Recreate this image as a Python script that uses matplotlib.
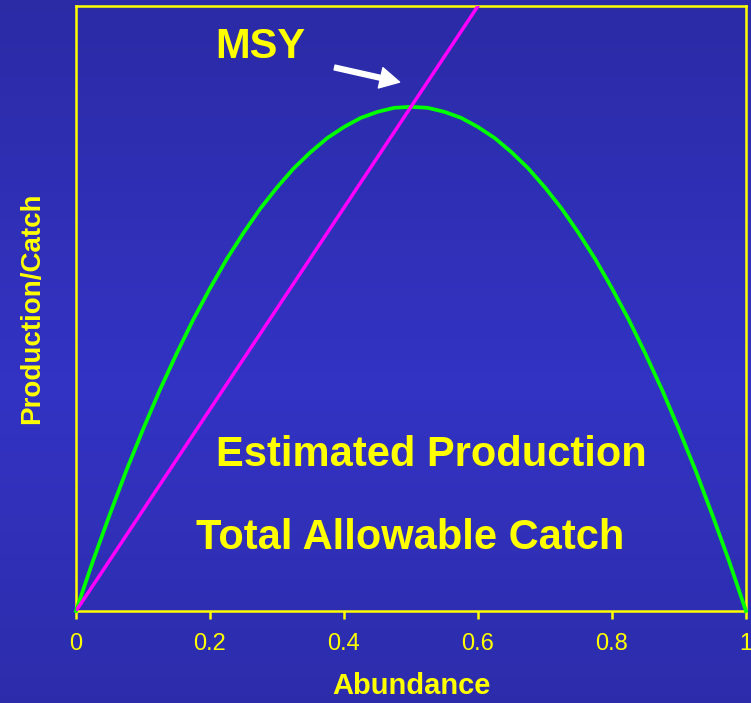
import matplotlib
matplotlib.use('Agg')
import matplotlib.pyplot as plt
import numpy as np

plt.rcParams['font.family'] = ['Liberation Sans', 'DejaVu Sans']

# Surplus production curve (green), sampled on an even abundance grid
abundance = np.linspace(0, 1, 81)
production = [0.0, 0.049, 0.098, 0.144, 0.19, 0.234, 0.278, 0.319, 0.36, 0.399,
              0.438, 0.474, 0.51, 0.544, 0.578, 0.609, 0.64, 0.669, 0.698, 0.724,
              0.75, 0.774, 0.798, 0.819, 0.84, 0.859, 0.878, 0.894, 0.91, 0.924,
              0.938, 0.949, 0.96, 0.969, 0.978, 0.984, 0.99, 0.994, 0.998, 0.999,
              1.0,
              0.999, 0.998, 0.994, 0.99, 0.984, 0.978, 0.969, 0.96, 0.949, 0.938,
              0.924, 0.91, 0.894, 0.878, 0.859, 0.84, 0.819, 0.798, 0.774, 0.75,
              0.724, 0.698, 0.669, 0.64, 0.609, 0.578, 0.544, 0.51, 0.474, 0.438,
              0.399, 0.36, 0.319, 0.278, 0.234, 0.19, 0.144, 0.098, 0.049, 0.0]
# Total allowable catch (magenta)
catch_x = [0.0, 0.1, 0.2, 0.3, 0.4, 0.5, 0.6]
catch_y = [0.0, 0.2, 0.4, 0.6, 0.8, 1.0, 1.2]
xticks = [0, 0.2, 0.4, 0.6, 0.8, 1]
xtick_labels = ['0', '0.2', '0.4', '0.6', '0.8', '1']

YELLOW = '#FFFF00'

fig = plt.figure(figsize=(7.51, 7.03), dpi=100)

# blue slide background, a little lighter through the middle
bg = fig.add_axes([0, 0, 1, 1], zorder=-1)
t = np.linspace(0, 1, 256)
shade = np.clip(1 - np.abs(t - 0.55) * 1.6, 0, 1)[:, None]
top = np.array([0x2A, 0x2A, 0xA2]) / 255
mid = np.array([0x33, 0x33, 0xC4]) / 255
grad = top + (mid - top) * shade
bg.imshow(grad[:, None, :] * np.ones((1, 4, 1)), aspect='auto', extent=[0, 1, 0, 1])
bg.axis('off')

ax = fig.add_axes([0.1012, 0.1309, 0.8921, 0.8606])
ax.set_facecolor('none')
ax.plot(abundance, production, color='#00FF00', lw=2.7, zorder=3, clip_on=False)
ax.plot(catch_x, catch_y, color='#FF00FF', lw=2.5, zorder=4)
ax.set_xlim(0, 1)
ax.set_ylim(0, 1.2)

for s in ax.spines.values():
    s.set_color(YELLOW)
    s.set_linewidth(1.8)
ax.set_yticks([])
ax.set_xticks(xticks)
ax.set_xticklabels(xtick_labels)
ax.tick_params(axis='x', colors=YELLOW, direction='out', length=6, width=1.8,
               labelsize=17, pad=10)

ax.set_xlabel('Abundance', color=YELLOW, fontsize=21, fontweight='bold', labelpad=12)
ax.set_ylabel('Production/Catch', color=YELLOW, fontsize=20, fontweight='bold', labelpad=22)

ax.text(0.275, 1.119, 'MSY', color=YELLOW, fontsize=30, fontweight='bold',
        ha='center', va='center')
ax.text(0.53, 0.309, 'Estimated Production', color=YELLOW, fontsize=30,
        fontweight='bold', ha='center', va='center')
ax.text(0.4985, 0.145, 'Total Allowable Catch', color=YELLOW, fontsize=30,
        fontweight='bold', ha='center', va='center')
ax.annotate('', xy=(0.483, 1.049), xytext=(0.386, 1.078),
            arrowprops=dict(width=3.5, headwidth=15, headlength=14,
                            facecolor='white', edgecolor='white', shrink=0))

fig.savefig('out.png', dpi=100)
